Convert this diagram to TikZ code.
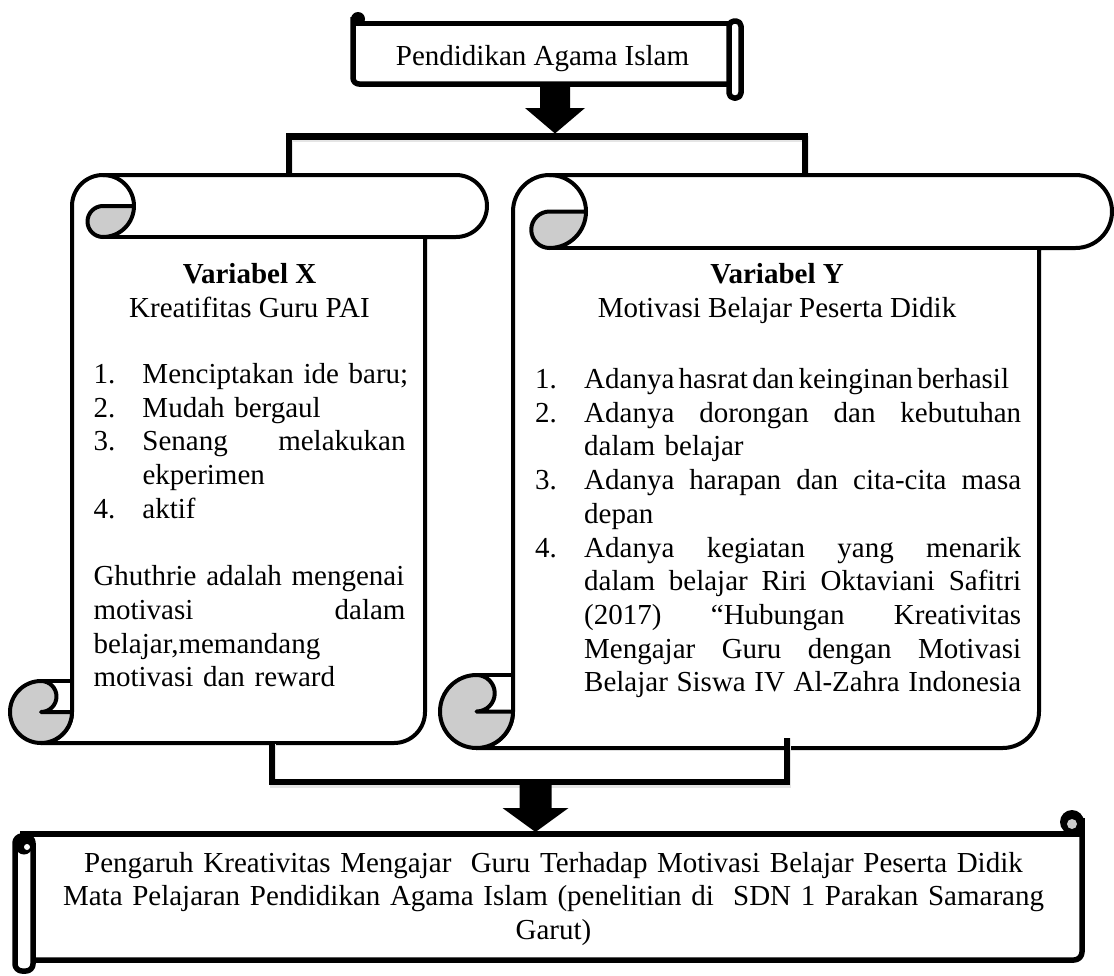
\documentclass[tikz,border=0pt]{standalone}
\usepackage{fontspec}
\setmainfont{Liberation Serif}
\definecolor{curlgray}{RGB}{204,204,204}
\tikzset{
  scrollline/.style={line width=4pt, line join=round},
  thickscroll/.style={line width=5.5pt, line join=round},
  curl/.style={scrollline, fill=curlgray},
  bracket/.style={line width=6.5pt},
  bracketshadow/.style={line width=6.5pt, draw=black!10},
  txt/.style={inner sep=0pt, font=\fontsize{29}{33.7}\selectfont},
}
\newcommand{\nomor}[1]{\makebox[49pt][l]{#1}}
\newcommand{\lanjut}{\hspace*{49pt}}
\begin{document}
\begin{tikzpicture}[x=1pt,y=-1pt]
  \useasboundingbox (0,0) rectangle (1114,975);
  \coordinate (a1) at (555,84);
  \coordinate (a2) at (535.5,784);
  % bracket + arrow from the top scroll
  \draw[bracketshadow] (290,176) -- (290,139) -- (806,139) -- (806,176);
  \draw[bracket] (289,176) -- (289,136.5) -- (805,136.5) -- (805,176);
  \fill (a1) ++(-15,0) -- ++(30,0) -- ++(0,24) -- ++(15,0) -- ++(-30,25.5) -- ++(-30,-25.5) -- ++(15,0) -- cycle;
  % top scroll
  \draw[thickscroll, rounded corners=6] (353,17) -- (353,84) -- (730,84);
  \draw[thickscroll] (353,23.5) -- (736,23.5);
  \draw[thickscroll, fill=white, rounded corners=5] (729,21) rectangle (741,98);
  \fill (358,19) circle[radius=7];
  \node[txt, anchor=base] (pai) at (542.5,65) {Pendidikan Agama Islam};
  % left scroll
  \draw[scrollline, fill=white] (41,743) -- (394,743) arc[start angle=90, end angle=0, radius=31] -- (425,237) -- (456,237) arc[start angle=90, end angle=-90, radius=31] -- (103,175) arc[start angle=270, end angle=180, radius=31] -- (72,712) arc[start angle=0, end angle=90, radius=31] -- cycle;
  \draw[scrollline] (103,237) -- (425,237);
  \draw[curl] (103,206) -- (134,206) arc[start angle=0, end angle=90, radius=31] arc[start angle=90, end angle=270, radius=15.5] -- cycle;
  \draw[scrollline] (103,175) arc[start angle=270, end angle=360, radius=31];
  \draw[curl] (72,712) arc[start angle=0, end angle=270, radius=31] arc[start angle=-90, end angle=90, radius=15.5] -- cycle;
  \draw[scrollline] (41,681) -- (72,681);
  % right scroll
  \draw[scrollline, fill=white] (476.5,748) -- (1002.5,748) arc[start angle=90, end angle=0, radius=36.5] -- (1039,248) -- (1075.5,248) arc[start angle=90, end angle=-90, radius=36.5] -- (549.5,175) arc[start angle=270, end angle=180, radius=36.5] -- (513,711.5) arc[start angle=0, end angle=90, radius=36.5] -- cycle;
  \draw[scrollline] (549.5,248) -- (1039,248);
  \draw[curl] (549.5,211.5) -- (586,211.5) arc[start angle=0, end angle=90, radius=36.5] arc[start angle=90, end angle=270, radius=18.25] -- cycle;
  \draw[scrollline] (549.5,175) arc[start angle=270, end angle=360, radius=36.5];
  \draw[curl] (513,711.5) arc[start angle=0, end angle=270, radius=36.5] arc[start angle=-90, end angle=90, radius=18.25] -- cycle;
  \draw[scrollline] (476.5,675) -- (513,675);
  % texts of the two variables
  \node[txt, anchor=base] (vx) at (249.5,283.5) {\textbf{Variabel X}};
  \node[txt, anchor=base] (vxsub) at (249.5,317.2) {Kreatifitas Guru PAI};
  \node[txt, text width=312pt, align=left, anchor=base west] (vxlist) at (93.3,383.5) {%
    \nomor{1.}\makebox[261pt][s]{Menciptakan ide baru;}\\
    \nomor{2.}Mudah bergaul\\
    \nomor{3.}Senang\hfill melakukan\\
    \lanjut ekperimen\\
    \nomor{4.}aktif\\
    \mbox{}\\
    Ghuthrie adalah mengenai\\
    motivasi\hfill dalam\\
    belajar,memandang\\
    motivasi dan reward};
  \node[txt, anchor=base] (vy) at (777,283.5) {\textbf{Variabel Y}};
  \node[txt, anchor=base] (vysub) at (777,317.2) {Motivasi Belajar Peserta Didik};
  \node[txt, text width=486pt, align=left, anchor=base west] (vylist) at (535,388.5) {%
    \nomor{1.}\mbox{\spaceskip=0.15em\relax Adanya hasrat dan keinginan berhasil}\\
    \nomor{2.}Adanya\hfill dorongan\hfill dan\hfill kebutuhan\\
    \lanjut dalam belajar\\
    \nomor{3.}Adanya\hfill harapan\hfill dan\hfill cita-cita\hfill masa\\
    \lanjut depan\\
    \nomor{4.}Adanya\hfill kegiatan\hfill yang\hfill menarik\\
    \lanjut dalam\hfill belajar\hfill Riri\hfill Oktaviani\hfill Safitri\\
    \lanjut (2017)\hfill “Hubungan\hfill Kreativitas\\
    \lanjut Mengajar\hfill Guru\hfill dengan\hfill Motivasi\\
    \lanjut Belajar\hfill Siswa\hfill IV\hfill Al-Zahra\hfill Indonesia};
  % bracket + arrow to the bottom scroll
  \draw[bracketshadow] (273,744) -- (273,784.5) -- (788,784.5) -- (788,738);
  \draw[bracket] (272,744) -- (272,782) -- (787,782) -- (787,738);
  \fill (a2) ++(-16,0) -- ++(32,0) -- ++(0,24) -- ++(17,0) -- ++(-33,24) -- ++(-33,-24) -- ++(17,0) -- cycle;
  % bottom scroll
  \draw[thickscroll] (20,834) -- (1082,834);
  \draw[thickscroll, rounded corners=8] (1082,818) -- (1082,960) -- (33,960);
  \draw[thickscroll, fill=white, rounded corners=7] (15,836) rectangle (33,971);
  \fill (24,846) circle[radius=8.5];
  \fill[white] (27,847) circle[radius=3];
  \fill (1072,822) circle[radius=12];
  \fill[curlgray] (1072,824) circle[radius=5];
  \node[txt, text width=1040pt, align=center, anchor=base] (hasil) at (553.5,872) {%
    Pengaruh Kreativitas Mengajar\ \ Guru Terhadap Motivasi Belajar Peserta Didik\\
    Mata Pelajaran Pendidikan Agama Islam (penelitian di\ \ SDN 1 Parakan Samarang\\
    Garut)};
\end{tikzpicture}
\end{document}
